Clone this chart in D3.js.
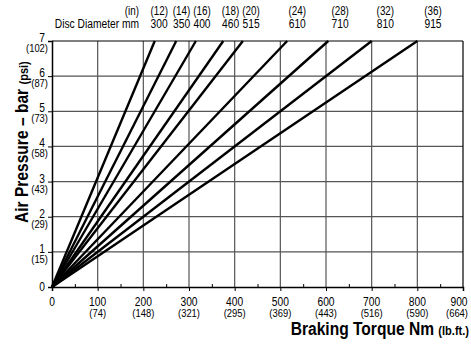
<!DOCTYPE html>
<html><head><meta charset="utf-8">
<script src="https://cdn.jsdelivr.net/npm/d3@7"></script>
<style>
body{margin:0;background:#fff;}
svg text{font-family:"Liberation Sans","Arial",sans-serif;fill:#000;}
</style></head><body>
<svg id="c" width="471" height="345"></svg>
<script>
// Data
const discMM = ["300","350","400","460","515","610","710","810","915"];
const discIn = ["(12)","(14)","(16)","(18)","(20)","(24)","(28)","(32)","(36)"];
const torqueAt7Bar = [225, 272, 315, 375, 418, 515, 605, 700, 800]; // Nm at 7 bar
const xTicks = [0,100,200,300,400,500,600,700,800,900];
const xTicksLbft = ["","(74)","(148)","(321)","(295)","(369)","(443)","(516)","(590)","(664)"];
const yTicks = [0,1,2,3,4,5,6,7];
const yTicksPsi = ["","(15)","(29)","(43)","(58)","(73)","(87)","(102)"];

const svg = d3.select("#c");
const L=52, R=463, T=41, B=287;
const SX = 0.82; // narrow font emulation
const x = d3.scaleLinear().domain([0,900]).range([L,R]);
const y = d3.scaleLinear().domain([0,7]).range([B,T]);

function narrowTexts(sel, fx, fy, rot){
  sel.attr("transform",(d,i)=>`translate(${fx(d,i)},${fy(d,i)})${rot?` rotate(${rot})`:""} scale(${SX},1)`);
  return sel;
}

// grid
svg.append("g").selectAll("line").data(xTicks.filter(d=>d>0&&d<900)).join("line")
  .attr("x1",d=>x(d)).attr("x2",d=>x(d)).attr("y1",T).attr("y2",B)
  .attr("stroke","#555").attr("stroke-width",1.2);
svg.append("g").selectAll("line").data(yTicks.filter(d=>d>0&&d<7)).join("line")
  .attr("x1",L).attr("x2",R).attr("y1",d=>y(d)).attr("y2",d=>y(d))
  .attr("stroke","#555").attr("stroke-width",1.2);

// frame top/right
svg.append("line").attr("x1",L).attr("x2",R).attr("y1",T).attr("y2",T).attr("stroke","#000").attr("stroke-width",1.2);
svg.append("line").attr("x1",R).attr("x2",R).attr("y1",T).attr("y2",B).attr("stroke","#000").attr("stroke-width",1.2);

// axes
const xAx = svg.append("g").attr("transform",`translate(0,${B})`)
  .call(d3.axisBottom(x).tickValues(xTicks).tickSize(4).tickFormat(""));
xAx.select(".domain").attr("stroke","#000").attr("stroke-width",1.5);
const xMinor = svg.append("g").attr("transform",`translate(0,${B})`)
  .call(d3.axisTop(x).tickValues(d3.range(50,900,100)).tickSize(3).tickFormat(""));
xMinor.select(".domain").remove();
const yAx = svg.append("g").attr("transform",`translate(${L},0)`)
  .call(d3.axisLeft(y).tickValues(yTicks).tickSize(4).tickFormat(""));
yAx.select(".domain").attr("stroke","#000").attr("stroke-width",1.5);

// x tick labels
const xl = d => Math.min(x(d), 459);
narrowTexts(svg.append("g").selectAll("text").data(xTicks).join("text")
  .attr("text-anchor","middle").attr("font-size",12.5).text(d=>d), xl, ()=>B+19);
narrowTexts(svg.append("g").selectAll("text").data(xTicks).join("text")
  .attr("text-anchor","middle").attr("font-size",11.5).text((d,i)=>xTicksLbft[i]), d=>Math.min(x(d),457), ()=>B+30);

// y tick labels
narrowTexts(svg.append("g").selectAll("text").data(yTicks).join("text")
  .attr("text-anchor","end").attr("font-size",12.5).text(d=>d), ()=>45, d=>d===0?y(d)+4:y(d)+1);
narrowTexts(svg.append("g").selectAll("text").data(yTicks).join("text")
  .attr("text-anchor","end").attr("font-size",11.5).text((d,i)=>yTicksPsi[i]), ()=>48, d=>y(d)+11);

// data lines
svg.append("g").selectAll("line").data(torqueAt7Bar).join("line")
  .attr("x1",x(0)).attr("y1",y(0)).attr("x2",d=>x(d)).attr("y2",y(7))
  .attr("stroke","#000").attr("stroke-width",2.4);

// top disc labels (placed along each line's extension)
const lp = 7.3;
narrowTexts(svg.append("g").selectAll("text").data(torqueAt7Bar).join("text")
  .attr("text-anchor","middle").attr("font-size",12.5).text((d,i)=>discMM[i]), d=>x(d*lp/7), ()=>28);
narrowTexts(svg.append("g").selectAll("text").data(torqueAt7Bar).join("text")
  .attr("text-anchor","middle").attr("font-size",12).text((d,i)=>discIn[i]), d=>x(d*lp/7), ()=>15);
svg.append("text").attr("transform",`translate(139,28) scale(${SX},1)`).attr("text-anchor","end").attr("font-size",12.5).text("Disc Diameter mm");
svg.append("text").attr("transform",`translate(139,15) scale(${SX},1)`).attr("text-anchor","end").attr("font-size",12).text("(in)");

// axis titles
const xt = svg.append("text").attr("transform",`translate(469,335) scale(${SX},1)`).attr("text-anchor","end").attr("font-weight","bold");
xt.append("tspan").attr("font-size",19).text("Braking Torque Nm ");
xt.append("tspan").attr("font-size",13.5).text("(lb.ft.)");
const yt = svg.append("text").attr("transform",`translate(28,223) rotate(-90) scale(${SX},1)`).attr("text-anchor","start").attr("font-weight","bold");
yt.append("tspan").attr("font-size",19).text("Air Pressure – bar ");
yt.append("tspan").attr("font-size",13.5).text("(psi)");
</script></body></html>
